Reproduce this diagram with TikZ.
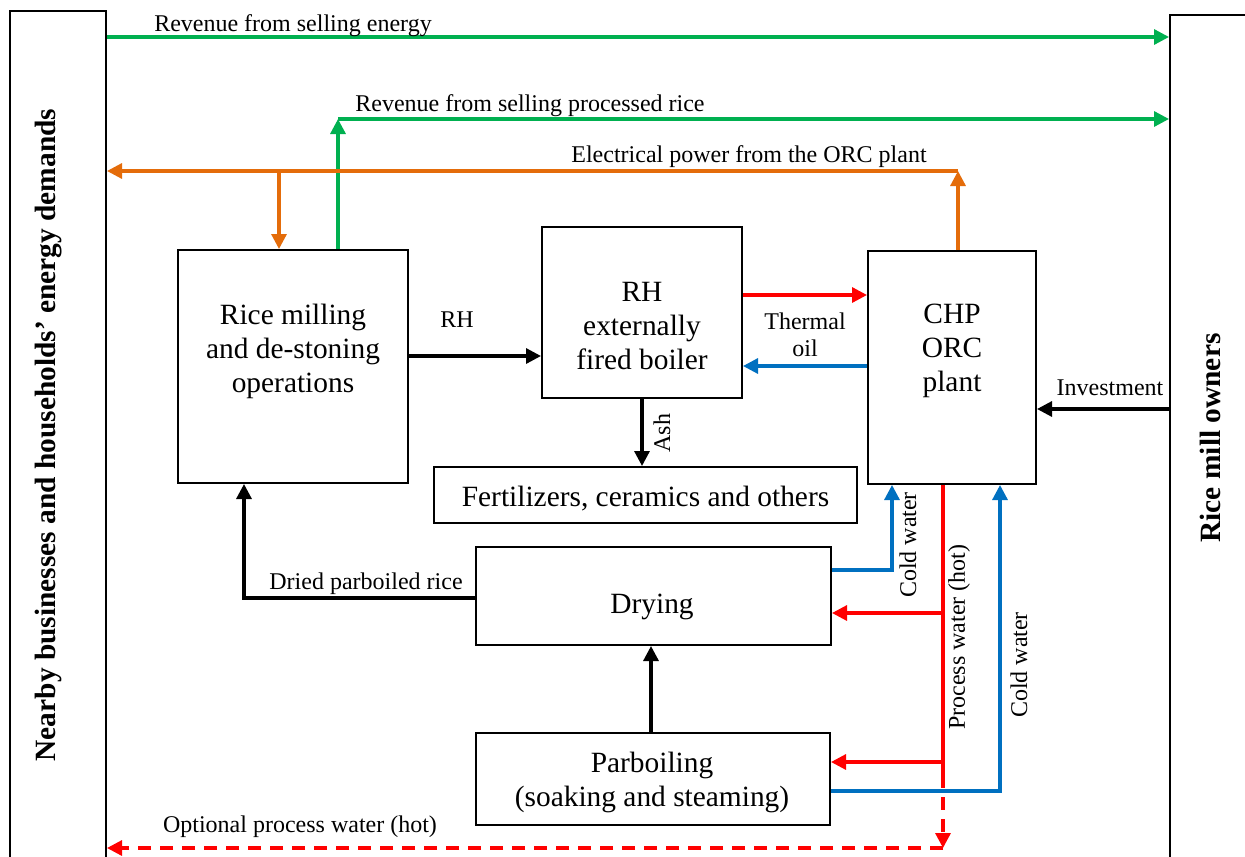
\documentclass[tikz,border=0pt]{standalone}
\usepackage{fontspec}
\setmainfont{Liberation Serif}
\usetikzlibrary{arrows.meta}
\definecolor{cgreen}{RGB}{0,176,80}
\definecolor{corange}{RGB}{228,108,10}
\definecolor{cred}{RGB}{255,0,0}
\definecolor{cblue}{RGB}{0,112,192}
\begin{document}
\begin{tikzpicture}[x=0.5pt,y=-0.5pt,
  box/.style={draw, line width=1pt, inner sep=0pt},
  maintxt/.style={font=\fontsize{14.7}{17}\selectfont, align=center, inner sep=0pt, yshift=-1.5pt},
  smalltxt/.style={font=\fontsize{12}{13.5}\selectfont, align=center, inner sep=0pt, yshift=-1.5pt},
  rottxt/.style={font=\fontsize{12}{13.5}\selectfont, align=center, inner sep=0pt, rotate=90},
  boldtxt/.style={font=\fontsize{14.7}{17}\selectfont\bfseries, inner sep=0pt, rotate=90},
  arr/.style={line width=1.6pt, -{Triangle[length=7.5pt,width=7.5pt]}},
  plain/.style={line width=1.6pt},
  garr/.style={arr, cgreen},
  oarr/.style={arr, corange},
  rarr/.style={arr, cred},
  barr/.style={arr, cblue},
  karr/.style={arr, black},
  dasharr/.style={arr, cred, dash pattern=on 6.5pt off 4.5pt}
]
\useasboundingbox (0,0) rectangle (1245,856);
\clip (0,0) rectangle (1245,856);
\fill[white] (0,0) rectangle (1245,856);

% side boxes
\node[box, minimum width=48pt, minimum height=434.5pt] (left) at (58,445.5) {};
\node[box, minimum width=46pt, minimum height=432.5pt] (right) at (1216,447.5) {};
\node[boldtxt] (lefttxt) at (49,435) {Nearby businesses and households’ energy demands};
\node[boldtxt] (righttxt) at (1210,438) {Rice mill owners};

% process boxes
\node[box, minimum width=115pt, minimum height=116.5pt] (rice) at (293,366.5) {};
\node[maintxt] (ricetxt) at (293,348) {Rice milling\\and de-stoning\\operations};
\node[box, minimum width=100pt, minimum height=85.5pt] (boiler) at (642,312.5) {};
\node[maintxt] (boilertxt) at (642,323) {RH\\externally\\fired boiler};
\node[box, minimum width=84pt, minimum height=116.5pt] (chp) at (952,367.5) {};
\node[maintxt] (chptxt) at (952,348) {CHP\\ORC\\plant};
\node[box, minimum width=211.5pt, minimum height=28pt] (fert) at (645.5,495) {};
\node[maintxt] (ferttxt) at (645.5,496) {Fertilizers, ceramics and others};
\node[box, minimum width=177.5pt, minimum height=49pt] (drying) at (653.5,596) {};
\node[maintxt] (dryingtxt) at (652,604) {Drying};
\node[box, minimum width=177pt, minimum height=46pt] (parb) at (653,779) {};
\node[maintxt] (parbtxt) at (652,779) {Parboiling\\(soaking and steaming)};

% green revenue lines
\draw[garr] (left.east |- 0,37) -- (right.west |- 0,37);
\node[smalltxt] (lenergy) at (293,23) {Revenue from selling energy};
\coordinate (g2) at (338,119);
\draw[garr] (rice.north -| g2) -- (g2);
\draw[garr] (g2) -- (right.west |- g2);
\node[smalltxt] (lrice) at (530,103) {Revenue from selling processed rice};

% orange electrical power
\coordinate (o1) at (958,171);
\coordinate (o2) at (279,171);
\draw[oarr] (chp.north -| o1) -- (o1);
\draw[oarr] (o1) -- (left.east |- o1);
\draw[oarr] (o2) -- (rice.north -| o2);
\node[smalltxt] (lelec) at (749,154) {Electrical power from the ORC plant};

% RH
\draw[karr] (rice.east |- 0,356) -- (boiler.west |- 0,356);
\node[smalltxt] (lrh) at (457,317) {RH};

% thermal oil
\draw[rarr] (boiler.east |- 0,295) -- (chp.west |- 0,295);
\draw[barr] (chp.west |- 0,366) -- (boiler.east |- 0,366);
\node[smalltxt] (loil) at (805,332) {Thermal\\oil};

% ash
\draw[karr] (boiler.south -| 642,0) -- (fert.north -| 642,0);
\node[rottxt] (lash) at (662,433) {Ash};

% investment
\draw[karr] (right.west |- 0,409) -- (chp.east |- 0,409);
\node[smalltxt] (linv) at (1110,385) {Investment};

% dried parboiled rice
\draw[karr] (drying.west |- 0,598) -- (244,598) -- (rice.south -| 244,0);
\node[smalltxt] (ldried) at (366,581) {Dried parboiled rice};

% parboiling to drying
\draw[karr] (parb.north -| 651,0) -- (drying.south -| 651,0);

% cold water 1
\draw[barr] (drying.east |- 0,570) -- (892,570) -- (chp.south -| 892,0);
\node[rottxt] (lcold1) at (908,545) {Cold water};

% process water (hot)
\coordinate (pw1) at (943,613);
\coordinate (pw2) at (943,762);
\coordinate (pw3) at (943,775);
\coordinate (pw4) at (943,848);
\draw[plain, cred] (chp.south -| pw1) -- (pw3);
\draw[rarr] (pw1) -- (drying.east |- pw1);
\draw[rarr] (pw2) -- (parb.east |- pw2);
\draw[dasharr] (pw3) -- (pw4);
\draw[dasharr] (pw4) -- (left.east |- pw4);
\node[rottxt] (lproc) at (959,637) {Process water (hot)};
\node[smalltxt] (lopt) at (300,824) {Optional process water (hot)};

% cold water 2
\draw[barr] (parb.east |- 0,791) -- (1000,791) -- (chp.south -| 1000,0);
\node[rottxt] (lcold2) at (1019,665) {Cold water};
\end{tikzpicture}
\end{document}
